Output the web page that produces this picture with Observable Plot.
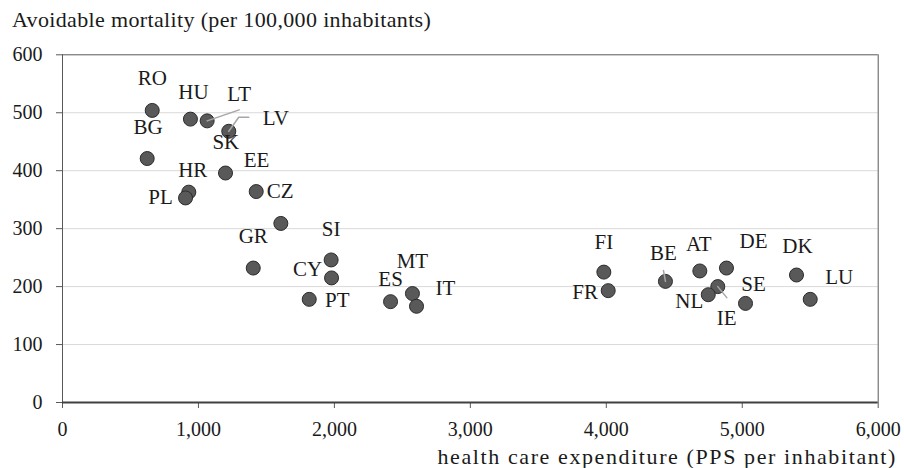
<!DOCTYPE html>
<html><head><meta charset="utf-8">
<script src="https://cdn.jsdelivr.net/npm/d3@7"></script>
<script src="https://cdn.jsdelivr.net/npm/@observablehq/plot@0.6"></script>
<style>
body{margin:0;background:#fff;font-family:"Liberation Serif","Times New Roman","DejaVu Serif",serif;}
#wrap{width:904px;height:468px;overflow:hidden;position:relative;}
#title{height:40px;line-height:40px;padding-left:12px;font-size:22px;letter-spacing:0.35px;color:#1a1a1a;white-space:nowrap;}
#xtitle{height:22px;line-height:22px;text-align:right;padding-right:7px;font-size:22px;letter-spacing:1.6px;color:#1a1a1a;white-space:nowrap;}
svg{display:block}
</style></head><body>
<div id="wrap">
<div id="title">Avoidable mortality (per 100,000 inhabitants)</div>
<div id="chart"></div>
<div id="xtitle">health care expenditure (PPS per inhabitant)</div>
</div>
<script>
// ---- data ----
const countries   = ["RO","HU","LT","LV","BG","EE","HR","PL","CZ","SK","GR","SI","CY","PT","ES","MT","IT","FI","FR","BE","AT","DE","IE","NL","SE","DK","LU"];
const expenditure = [660, 941, 1064, 1223, 623, 1199, 929, 905, 1425, 1606, 1403, 1976, 1979, 1815, 2413, 2574, 2604, 3982, 4014, 4435, 4688, 4884, 4820, 4750, 5024, 5399, 5500];
const mortality   = [504, 489, 486, 468, 421, 396, 363, 353, 364, 309, 232, 246, 215, 178, 174, 188, 166, 225, 193, 209, 227, 232, 200, 186, 171, 220, 178];
const xTicks = [0, 1000, 2000, 3000, 4000, 5000, 6000];
const yTicks = [0, 100, 200, 300, 400, 500, 600];

// ---- label layout (pixel offsets from the dot) ----
const labelOffset = {
  RO:[0,-32], HU:[3,-27], LT:[32,-27], LV:[47,-13], BG:[1,-31], SK:[-55,-81], EE:[31,-13],
  HR:[4,-22], PL:[-25,-1], CZ:[24,0], GR:[0,-32], SI:[0,-31], CY:[-24,-9], PT:[28,1],
  ES:[0,-22], MT:[0,-32], IT:[29,-18], FI:[0,-30], FR:[-23,2], BE:[-2,-28], AT:[-1,-27],
  DE:[27,-27], DK:[1,-29], LU:[29,-22], NL:[-19,7], SE:[8,-19], IE:[9,32]
};
const leaderPath = { LT:[[32,-11]], LV:[[10,-14],[20,-14]], BE:[[-2,-11]], IE:[[9,11]] };

const FONT = "'Liberation Serif', 'Times New Roman', 'DejaVu Serif', serif";
const W = 904, H = 406, ML = 62, MR = 26.3, MT = 14.3, MB = 44;
const kx = (W - ML - MR) / 6000, ky = (H - MT - MB) / 600;

const rows = countries.map((c, i) => ({code: c, x: expenditure[i], y: mortality[i]}));
const leaderPts = [];
for (const r of rows) {
  const p = leaderPath[r.code];
  if (!p) continue;
  leaderPts.push({code: r.code, x: r.x, y: r.y});
  for (const [dx, dy] of p) leaderPts.push({code: r.code, x: r.x + dx / kx, y: r.y - dy / ky});
}

const chart = Plot.plot({
  width: W, height: H,
  marginLeft: ML, marginRight: MR, marginTop: MT, marginBottom: MB,
  style: {fontFamily: FONT, fontSize: "20px", color: "#1a1a1a", background: "#fff"},
  x: {domain: [0, 6000]},
  y: {domain: [0, 600]},
  marks: [
    Plot.gridY(yTicks.filter(d => d > 0 && d < 600), {stroke: "#d9d9d9", strokeOpacity: 1, strokeWidth: 1}),
    Plot.ruleY([600], {stroke: "#595959", strokeWidth: 1}),
    Plot.ruleX([6000], {stroke: "#595959", strokeWidth: 1}),
    Plot.ruleX([0], {stroke: "#595959", strokeWidth: 1}),
    Plot.axisY({ticks: yTicks, tickSize: 6, tickPadding: 14, label: null, stroke: "#595959", fill: "#1a1a1a", fontSize: 20}),
    Plot.axisX({ticks: xTicks, tickSize: 6, tickPadding: 13, label: null, tickFormat: d3.format(","), stroke: "#595959", fill: "#1a1a1a", fontSize: 20}),
    Plot.ruleY([0], {stroke: "#404040", strokeWidth: 2}),
    Plot.dot(rows, {x: "x", y: "y", r: 7, fill: "#595959", stroke: "#2b2b2b", strokeWidth: 1}),
    Plot.line(leaderPts, {x: "x", y: "y", z: "code", stroke: "#a6a6a6", strokeWidth: 1.5}),
    Plot.text(rows, {
      x: d => d.x + labelOffset[d.code][0] / kx,
      y: d => d.y - labelOffset[d.code][1] / ky,
      text: "code", fontSize: 21, fill: "#1a1a1a"
    })
  ]
});
document.getElementById("chart").appendChild(chart);
</script>
</body></html>
